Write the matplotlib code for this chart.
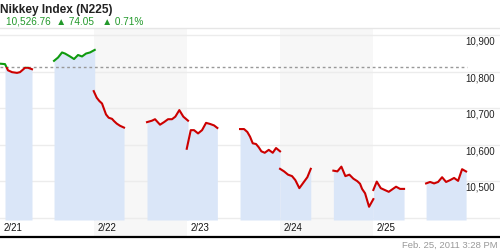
import matplotlib
matplotlib.use("Agg")
import matplotlib.pyplot as plt
from matplotlib.patches import Rectangle

plt.rcParams['font.family'] = ['Liberation Sans', 'DejaVu Sans']

# hours since 2/21 00:00 and index values, one pair of lists per trading session
s1_t = [0.13, 1.16, 1.93, 2.96, 4.25, 5.02, 5.79, 6.31, 7.08, 7.60, 8.11]
s1_v = [10822, 10821, 10804, 10799, 10797, 10799, 10806, 10811, 10811, 10809, 10807]
s2_t = [13.78, 14.81, 15.84, 16.61, 17.90, 18.93, 19.96, 20.99, 22.02, 23.05, 24.26]
s2_v = [10830, 10839, 10853, 10850, 10842, 10835, 10846, 10842, 10850, 10853, 10860]
s3_t = [24.0, 24.77, 25.44, 26.14, 26.65, 27.17, 27.86, 28.71, 29.22, 29.92, 30.77, 31.8]
s3_v = [10747, 10729, 10720, 10713, 10698, 10683, 10674, 10671, 10665, 10658, 10652, 10647]
s4_t = [37.72, 39.01, 39.78, 41.07, 42.10, 43.13, 44.16, 45.01, 46.04, 47.07, 48.28]
s4_v = [10662, 10666, 10670, 10655, 10662, 10670, 10670, 10677, 10695, 10677, 10666]
s5_t = [47.95, 48.98, 49.83, 50.86, 51.89, 52.92, 53.95, 54.98, 55.83]
s5_v = [10589, 10640, 10640, 10631, 10640, 10660, 10657, 10653, 10646]
s6_t = [61.67, 62.70, 63.55, 64.25, 64.94, 65.79, 66.49, 67.16, 68.03, 69.06, 70.09, 70.94, 71.97]
s6_v = [10643, 10643, 10635, 10622, 10604, 10602, 10593, 10582, 10578, 10586, 10578, 10591, 10582]
s7_t = [71.97, 73.00, 74.03, 75.06, 75.91, 76.94, 77.97, 79.00, 79.88]
s7_v = [10534, 10527, 10518, 10514, 10503, 10481, 10496, 10511, 10534]
s8_t = [85.70, 86.73, 87.76, 88.79, 89.82, 90.85, 91.88, 92.57, 93.09, 93.86, 94.89, 95.99]
s8_v = [10529, 10527, 10540, 10514, 10518, 10507, 10500, 10493, 10479, 10467, 10430, 10451]
s9_t = [95.99, 96.87, 97.90, 99.96, 101.84, 102.87, 103.90]
s9_v = [10476, 10499, 10481, 10471, 10485, 10479, 10479]
s10_t = [109.57, 110.60, 111.63, 112.66, 113.69, 114.72, 115.75, 116.78, 117.81, 118.84, 119.87]
s10_v = [10494, 10498, 10494, 10498, 10511, 10498, 10503, 10509, 10501, 10533, 10526.76]

sessions = [(s1_t, s1_v), (s2_t, s2_v), (s3_t, s3_v), (s4_t, s4_v), (s5_t, s5_v),
            (s6_t, s6_v), (s7_t, s7_v), (s8_t, s8_v), (s9_t, s9_v), (s10_t, s10_v)]

prev_close = 10812
day_starts = [0, 24, 48, 72, 96]
day_labels = ['2/21', '2/22', '2/23', '2/24', '2/25']
y_ticks = [10400, 10500, 10600, 10700, 10800, 10900]
y_labels = ['10,500', '10,600', '10,700', '10,800', '10,900']

fill_base = 10393.7
green = '#0f9a0f'
red = '#cc0000'

fig = plt.figure(figsize=(5, 2.5), dpi=100)
ax = fig.add_axes([0, 0.054, 1, 0.8328])
ax.set_xlim(-0.13, 128.6)
ax.set_ylim(10348.5, 10919.2)

# shaded alternate days
for i, d in enumerate(day_starts):
    if i % 2 == 1:
        ax.axvspan(d, d + 24, color='#f7f7f7', zorder=0, lw=0)

for v in y_ticks:
    ax.axhline(v, color='#ececec', lw=1, zorder=1)

for k, (t, v) in enumerate(sessions):
    # the first session's area starts one point late in the original
    a = 1 if k == 0 else 0
    ax.fill_between(t[a:], v[a:], fill_base, color='#dae6f8', lw=0, zorder=2)

ax.plot([-0.13, 120], [prev_close, prev_close], color='#999999', lw=1,
        dashes=(2, 2), zorder=3)

up = Rectangle((-10, prev_close), 200, 1000, transform=ax.transData)
down = Rectangle((-10, prev_close - 1000), 200, 1000, transform=ax.transData)
for t, v in sessions:
    lg, = ax.plot(t, v, color=green, lw=1.5, zorder=4, solid_joinstyle='round')
    lg.set_clip_path(up)
    lr, = ax.plot(t, v, color=red, lw=1.5, zorder=4, solid_joinstyle='round')
    lr.set_clip_path(down)

# y labels inside on the right
for v, lab in zip(y_ticks[1:], y_labels):
    ax.annotate(lab, xy=(1, v), xycoords=('axes fraction', 'data'),
                xytext=(-5, -1.5), textcoords='offset pixels',
                ha='right', va='top', fontsize=7, color='#222222')

for d, lab in zip(day_starts, day_labels):
    ax.annotate(lab, xy=(d, 0.043), xycoords=('data', 'axes fraction'),
                xytext=(3.5, 0), textcoords='offset pixels',
                ha='left', va='center', fontsize=7, color='#111111')

ax.set_xticks([])
ax.set_yticks([])
for s in ['left', 'right', 'bottom']:
    ax.spines[s].set_visible(False)
ax.spines['top'].set_color('#e6e6e6')
ax.spines['top'].set_linewidth(1)

# thick base line
fig.add_artist(plt.Line2D([0, 1], [1 - 236.7 / 250] * 2, color='black', lw=1.6))

fig.text(0.5 / 500, 1 - 13.5 / 250, 'Nikkey Index (N225)', fontsize=8.6,
         fontweight='bold', color='#222222', ha='left', va='baseline')
fig.text(6 / 500, 1 - 24.2 / 250, '10,526.76  \u25b2 74.05   \u25b2 0.71%',
         fontsize=7.2, color='#22992a', ha='left', va='baseline')
fig.text(498 / 500, 1 - 247.5 / 250, 'Feb. 25, 2011 3:28 PM', fontsize=6.8,
         color='#999999', ha='right', va='baseline')

fig.savefig('out.png', dpi=100)
